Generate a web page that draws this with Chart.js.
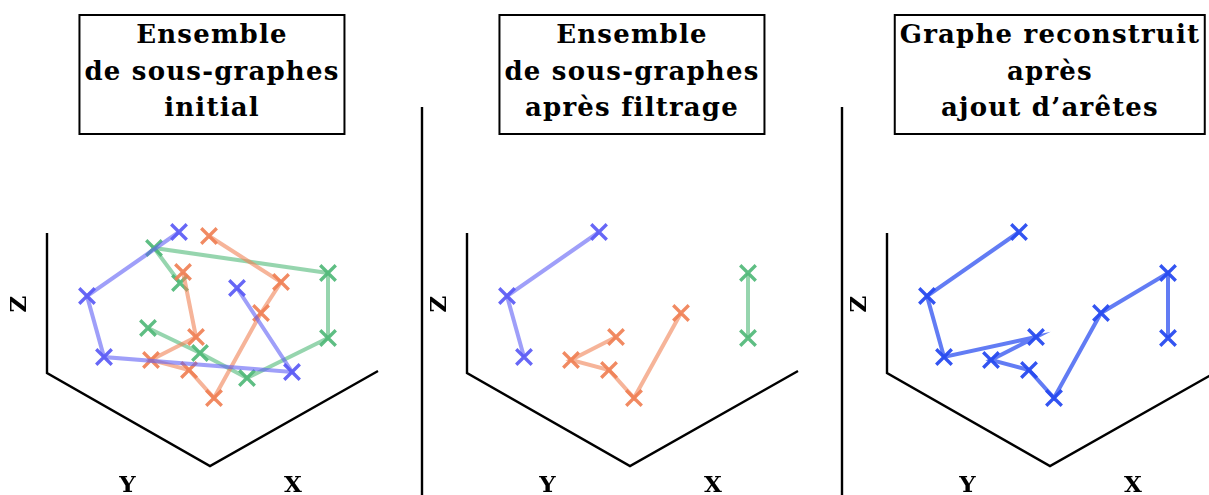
<!DOCTYPE html>
<html>
<head>
<meta charset="utf-8">
<script src="https://cdn.jsdelivr.net/npm/chart.js@4.4.1/dist/chart.umd.min.js"></script>
<style>
  html, body { margin: 0; padding: 0; background: #fff; width: 1209px; height: 495px; overflow: hidden; }
  .panel { position: absolute; top: 0; width: 420px; height: 495px; }
  canvas { display: block; }
  .title {
    position: absolute; top: 14px; height: 117px;
    transform: translateX(-50%);
    border: 2px solid #000; background: #fff;
    font-family: "DejaVu Serif", serif; font-weight: bold; font-size: 26px;
    letter-spacing: 1.2px;
    line-height: 36.5px; text-align: center; white-space: nowrap;
    padding: 0 4px; color: #000; box-sizing: content-box;
  }
</style>
</head>
<body>
<div class="panel" style="left:0px"><canvas id="c1" width="420" height="495"></canvas></div>
<div class="panel" style="left:420px"><canvas id="c2" width="420" height="495"></canvas></div>
<div class="panel" style="left:840px"><canvas id="c3" width="420" height="495"></canvas></div>
<div class="title" style="left:212px">Ensemble<br>de sous-graphes<br>initial</div>
<div class="title" style="left:632px">Ensemble<br>de sous-graphes<br>après filtrage</div>
<div class="title" style="left:1050px">Graphe reconstruit<br>après<br>ajout d’arêtes</div>
<script>
// ---- Data (projected coordinates, units) ----
const panelTitles = ["Ensemble de sous-graphes initial", "Ensemble de sous-graphes après filtrage", "Graphe reconstruit après ajout d’arêtes"];
const axisNames = ["X", "Y", "Z"];

// Panel 1: initial sub-graphs
const blueInitX   = [13.2, 4.0, 5.7, 24.5, 19.0];
const blueInitY   = [14.1, 7.7, 1.6, 0.1, 8.5];
const orangeInitX = [16.2, 23.4, 21.4, 16.7, 14.2, 10.4, 14.9, 13.6];
const orangeInitY = [13.7, 9.1, 6.0, -2.5, 0.3, 1.3, 3.6, 10.1];
const greenInitX  = [13.3, 10.7, 28.1, 28.1, 20.0, 15.3, 10.1];
const greenInitY  = [9.0, 12.5, 10.0, 3.5, -0.5, 2.0, 4.5];

// Panel 2: after filtering
const blueFiltX   = [13.2, 4.0, 5.7];
const blueFiltY   = [14.1, 7.7, 1.6];
const orangeFiltX = [14.9, 10.4, 14.2, 16.7, 21.4];
const orangeFiltY = [3.6, 1.3, 0.3, -2.5, 6.0];
const greenFiltX  = [28.1, 28.1];
const greenFiltY  = [10.0, 3.5];

// Panel 3: reconstructed graph
const reconX = [13.2, 4.0, 5.7, 14.9, 10.4, 14.2, 16.7, 21.4, 28.1, 28.1];
const reconY = [14.1, 7.7, 1.6, 3.6, 1.3, 0.3, -2.5, 6.0, 10.0, 3.5];

// 3D frame (Z axis, Y axis, X axis edges)
const frameX = [0, 0, 16.3, 33.1];
const frameY = [14.0, 0, -9.3, 0.2];
// Axis label anchors: X, Y, Z
const labelX = [24.6, 8.05, -2.7];
const labelY = [-11.3, -11.3, 6.9];
// Panel separator line
const sepX = [-4.5, -4.5];
const sepY = [26.6, -12.2];

// ---- helpers ----
const pts = (xs, ys) => xs.map((x, i) => ({ x: x, y: ys[i] }));

function series(xs, ys, lineColor, markColor) {
  return {
    data: pts(xs, ys), showLine: true, clip: false,
    borderColor: lineColor, borderWidth: 4,
    pointStyle: 'crossRot', pointRadius: 11, pointHoverRadius: 11,
    pointBorderColor: markColor, pointBackgroundColor: markColor, pointBorderWidth: 3.3,
    order: 1
  };
}
function plainLine(xs, ys) {
  return {
    data: pts(xs, ys), showLine: true, clip: false,
    borderColor: '#000', borderWidth: 2.4, pointRadius: 0, pointHoverRadius: 0,
    borderCapStyle: 'butt', order: 5
  };
}

const axisLabelPlugin = {
  id: 'axisLabels',
  afterDatasetsDraw(chart) {
    const ctx = chart.ctx, sx = chart.scales.x, sy = chart.scales.y;
    ctx.save();
    ctx.fillStyle = '#000';
    ctx.font = 'bold 23px "DejaVu Serif", serif';
    ctx.textAlign = 'center';
    ctx.textBaseline = 'middle';
    for (let i = 0; i < axisNames.length; i++) {
      const px = sx.getPixelForValue(labelX[i]);
      const py = sy.getPixelForValue(labelY[i]);
      ctx.save();
      ctx.translate(px, py);
      if (axisNames[i] === 'Z') ctx.rotate(-Math.PI / 2);
      ctx.fillText(axisNames[i], 0, 0);
      ctx.restore();
    }
    ctx.restore();
  }
};

function makeChart(id, datasets) {
  return new Chart(document.getElementById(id), {
    type: 'scatter',
    data: { datasets: datasets },
    options: {
      responsive: false, animation: false,
      layout: { padding: 0, autoPadding: false },
      scales: {
        x: { type: 'linear', min: -4.7, max: 37.3, display: false },
        y: { type: 'linear', min: -12.2, max: 37.3, display: false }
      },
      plugins: { legend: { display: false }, tooltip: { enabled: false }, title: { display: false } },
      events: []
    },
    plugins: [axisLabelPlugin]
  });
}

const BLUE_L = 'rgba(95,95,245,0.6)',  BLUE_M = 'rgba(90,90,245,0.92)';
const ORNG_L = 'rgba(240,130,85,0.6)', ORNG_M = 'rgba(240,128,85,0.92)';
const GRN_L  = 'rgba(80,185,120,0.6)', GRN_M  = 'rgba(80,185,120,0.92)';
const REC_L  = 'rgba(45,80,240,0.75)', REC_M  = 'rgba(40,75,240,0.95)';

makeChart('c1', [
  plainLine(frameX, frameY),
  series(blueInitX, blueInitY, BLUE_L, BLUE_M),
  series(orangeInitX, orangeInitY, ORNG_L, ORNG_M),
  series(greenInitX, greenInitY, GRN_L, GRN_M)
]);
makeChart('c2', [
  plainLine(frameX, frameY),
  plainLine(sepX, sepY),
  series(blueFiltX, blueFiltY, BLUE_L, BLUE_M),
  series(orangeFiltX, orangeFiltY, ORNG_L, ORNG_M),
  series(greenFiltX, greenFiltY, GRN_L, GRN_M)
]);
makeChart('c3', [
  plainLine(frameX, frameY),
  plainLine(sepX, sepY),
  series(reconX, reconY, REC_L, REC_M)
]);
</script>
</body>
</html>
